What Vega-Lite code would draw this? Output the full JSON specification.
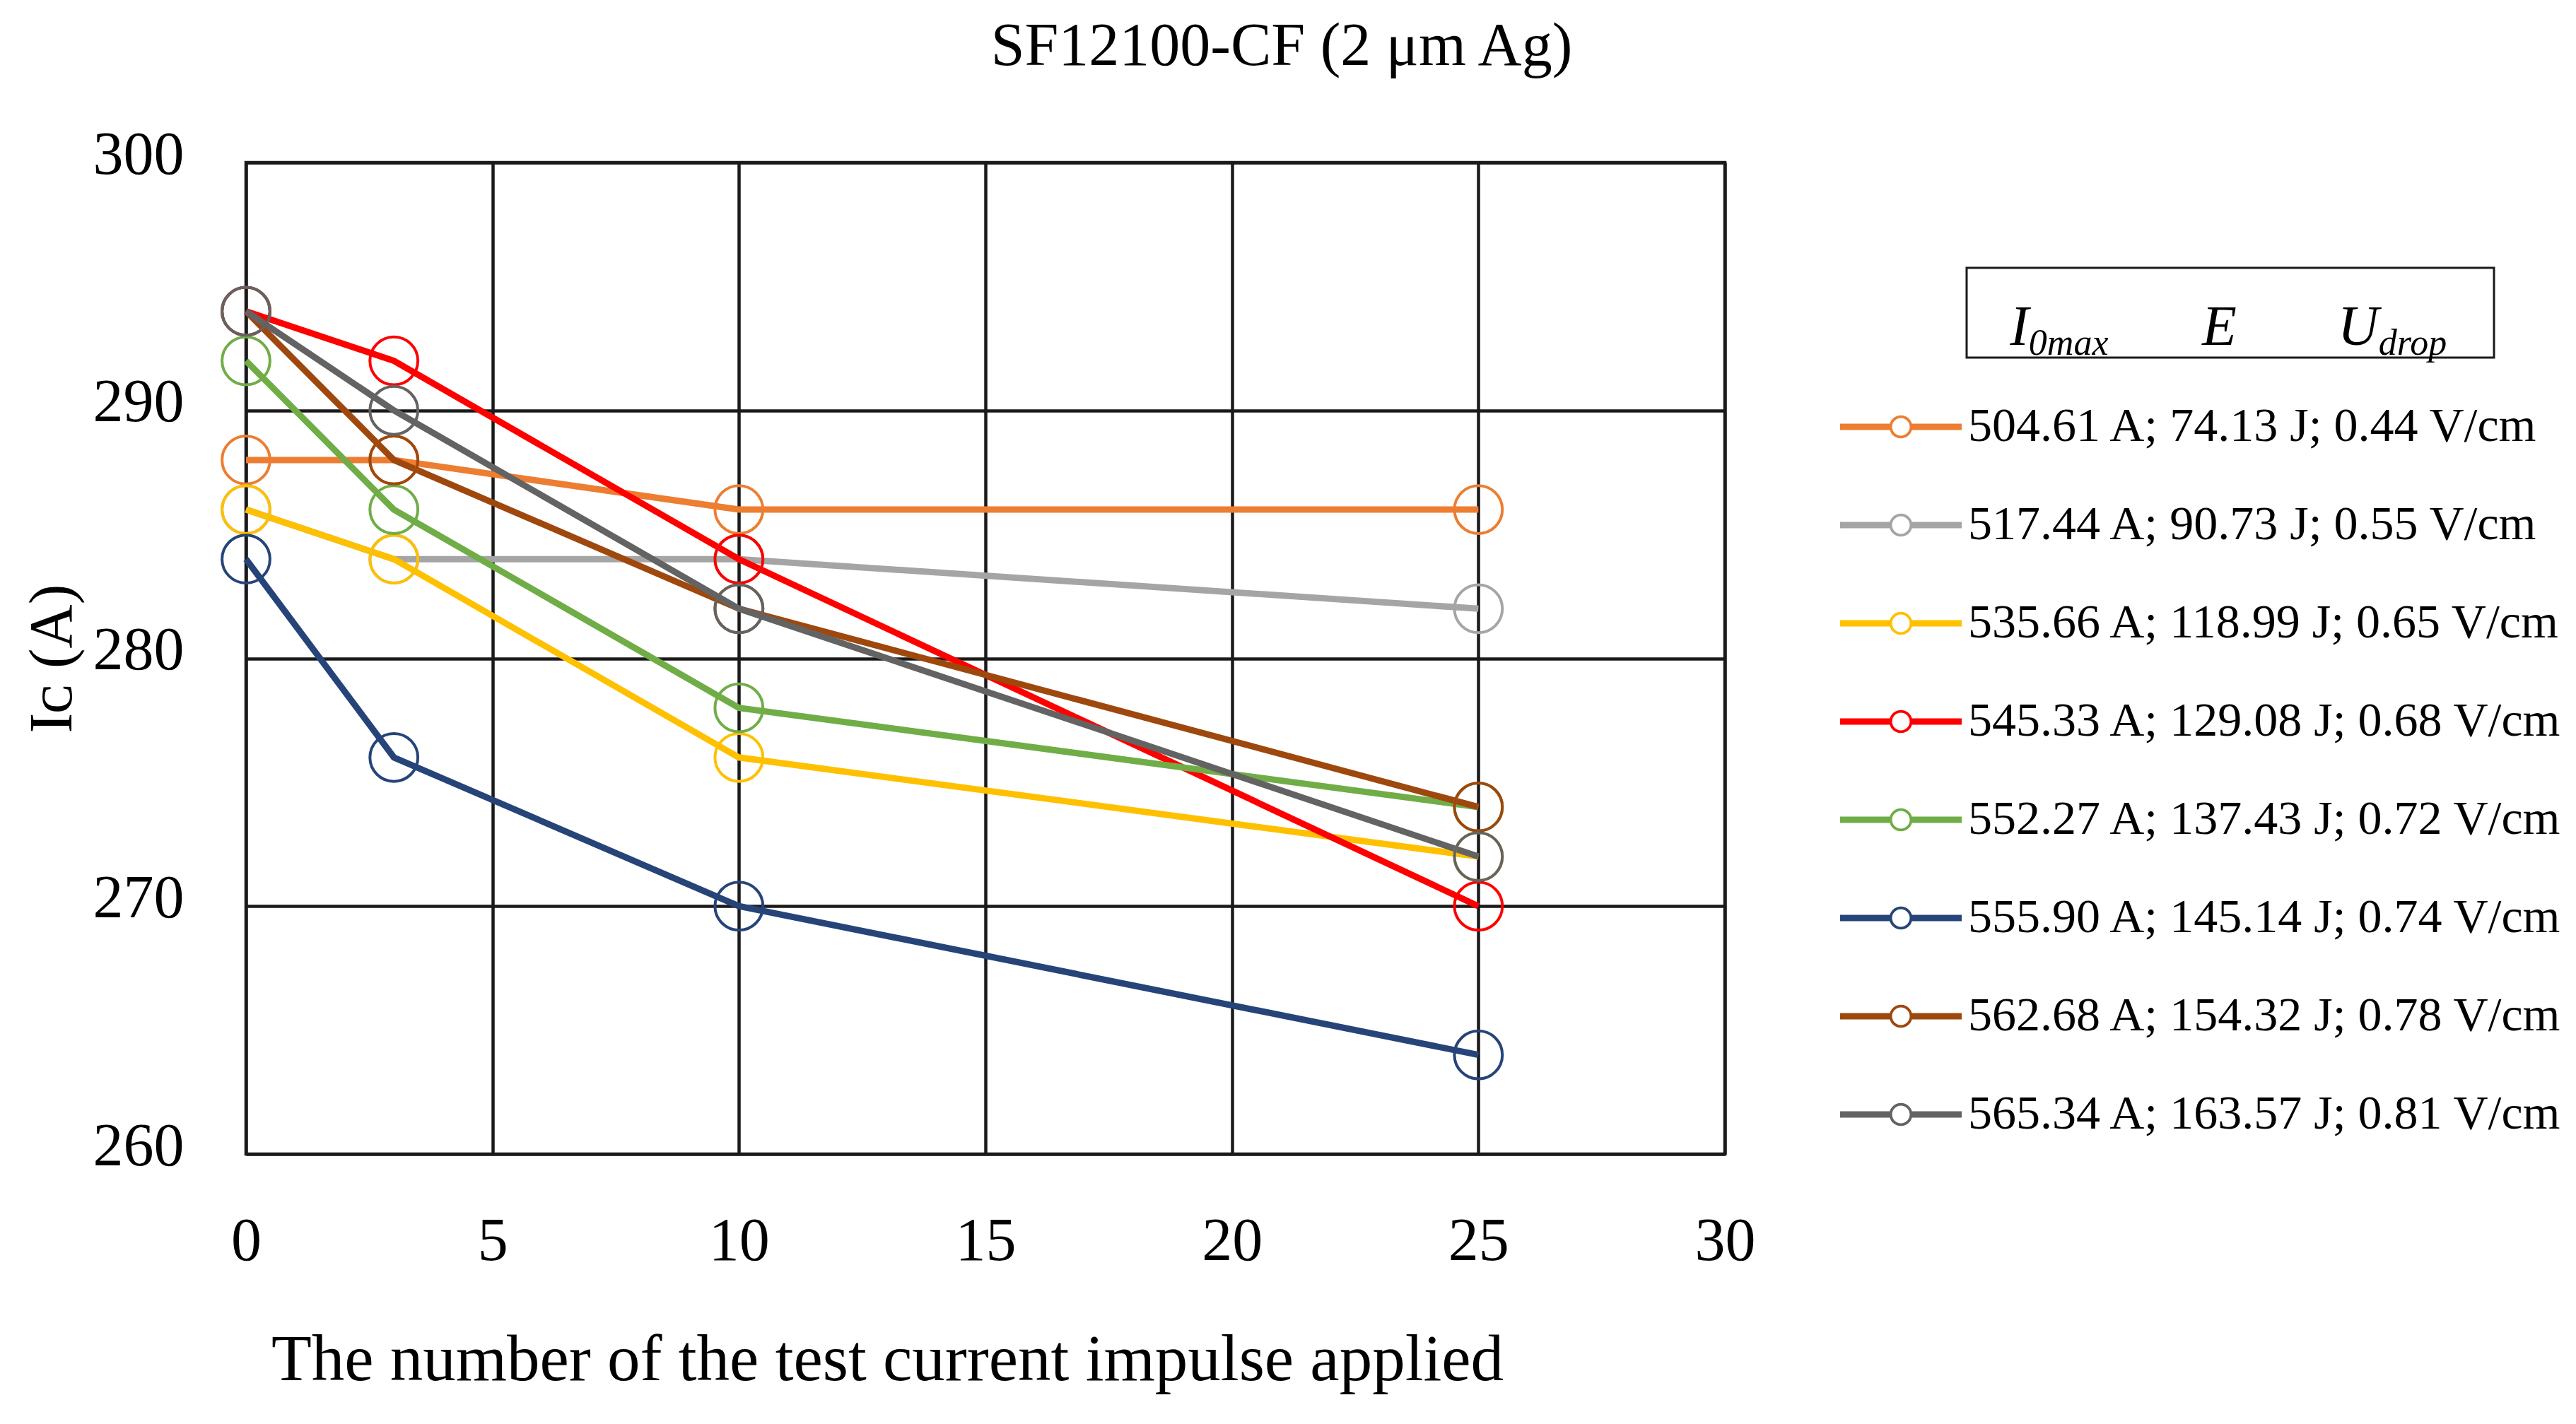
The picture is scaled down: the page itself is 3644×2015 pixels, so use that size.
{
  "$schema": "https://vega.github.io/schema/vega-lite/v6.json",
  "background": "white",
  "padding": {"left": 28, "top": 20, "right": 10, "bottom": 10},
  "spacing": 294,
  "resolve": {"legend": {"color": "shared"}},
  "config": {
    "axis": {"labelFont": "Liberation Serif", "labelFontSize": 86, "labelColor": "#000000", "titleFont": "Liberation Serif", "titleFontWeight": "normal", "titleColor": "#000000", "ticks": false, "domain": false, "grid": true, "gridColor": "#1a1a1a", "gridWidth": 4.5, "gridOpacity": 1, "labelFlush": false}
  },
  "hconcat": [
    {
      "width": 2092,
      "height": 1403,
      "title": {"text": "SF12100-CF (2 μm Ag)", "font": "Liberation Serif", "fontSize": 86, "fontWeight": "normal", "color": "#000000", "anchor": "middle", "frame": "group", "dx": 419, "offset": 66},
      "view": {"stroke": "#1a1a1a", "strokeWidth": 4.5},
      "data": {"values": [
        {"series": "504.61 A; 74.13 J; 0.44 V/cm", "n": 0, "Ic": 288},
        {"series": "504.61 A; 74.13 J; 0.44 V/cm", "n": 3, "Ic": 288},
        {"series": "504.61 A; 74.13 J; 0.44 V/cm", "n": 10, "Ic": 286},
        {"series": "504.61 A; 74.13 J; 0.44 V/cm", "n": 25, "Ic": 286},
        {"series": "517.44 A; 90.73 J; 0.55 V/cm", "n": 0, "Ic": 286},
        {"series": "517.44 A; 90.73 J; 0.55 V/cm", "n": 3, "Ic": 284},
        {"series": "517.44 A; 90.73 J; 0.55 V/cm", "n": 10, "Ic": 284},
        {"series": "517.44 A; 90.73 J; 0.55 V/cm", "n": 25, "Ic": 282},
        {"series": "535.66 A; 118.99 J; 0.65 V/cm", "n": 0, "Ic": 286},
        {"series": "535.66 A; 118.99 J; 0.65 V/cm", "n": 3, "Ic": 284},
        {"series": "535.66 A; 118.99 J; 0.65 V/cm", "n": 10, "Ic": 276},
        {"series": "535.66 A; 118.99 J; 0.65 V/cm", "n": 25, "Ic": 272},
        {"series": "545.33 A; 129.08 J; 0.68 V/cm", "n": 0, "Ic": 294},
        {"series": "545.33 A; 129.08 J; 0.68 V/cm", "n": 3, "Ic": 292},
        {"series": "545.33 A; 129.08 J; 0.68 V/cm", "n": 10, "Ic": 284},
        {"series": "545.33 A; 129.08 J; 0.68 V/cm", "n": 25, "Ic": 270},
        {"series": "552.27 A; 137.43 J; 0.72 V/cm", "n": 0, "Ic": 292},
        {"series": "552.27 A; 137.43 J; 0.72 V/cm", "n": 3, "Ic": 286},
        {"series": "552.27 A; 137.43 J; 0.72 V/cm", "n": 10, "Ic": 278},
        {"series": "552.27 A; 137.43 J; 0.72 V/cm", "n": 25, "Ic": 274},
        {"series": "555.90 A; 145.14 J; 0.74 V/cm", "n": 0, "Ic": 284},
        {"series": "555.90 A; 145.14 J; 0.74 V/cm", "n": 3, "Ic": 276},
        {"series": "555.90 A; 145.14 J; 0.74 V/cm", "n": 10, "Ic": 270},
        {"series": "555.90 A; 145.14 J; 0.74 V/cm", "n": 25, "Ic": 264},
        {"series": "562.68 A; 154.32 J; 0.78 V/cm", "n": 0, "Ic": 294},
        {"series": "562.68 A; 154.32 J; 0.78 V/cm", "n": 3, "Ic": 288},
        {"series": "562.68 A; 154.32 J; 0.78 V/cm", "n": 10, "Ic": 282},
        {"series": "562.68 A; 154.32 J; 0.78 V/cm", "n": 25, "Ic": 274},
        {"series": "565.34 A; 163.57 J; 0.81 V/cm", "n": 0, "Ic": 294},
        {"series": "565.34 A; 163.57 J; 0.81 V/cm", "n": 3, "Ic": 290},
        {"series": "565.34 A; 163.57 J; 0.81 V/cm", "n": 10, "Ic": 282},
        {"series": "565.34 A; 163.57 J; 0.81 V/cm", "n": 25, "Ic": 272}
      ]},
      "encoding": {
        "x": {"field": "n", "type": "quantitative", "scale": {"domain": [0, 30], "nice": false},
          "axis": {"values": [0, 5, 10, 15, 20, 25, 30], "title": "The number of the test current impulse applied", "titleFontSize": 93, "titleX": 907, "labelPadding": 81, "titlePadding": 80}},
        "y": {"field": "Ic", "type": "quantitative", "scale": {"domain": [260, 300], "nice": false, "zero": false},
          "axis": {"values": [260, 270, 280, 290, 300], "title": "Iᴄ (A)", "titleFontSize": 86, "labelPadding": 88, "titlePadding": 30, "labelOffset": -11}},
        "color": {"field": "series", "type": "nominal", "sort": null,
          "scale": {"domain": ["504.61 A; 74.13 J; 0.44 V/cm", "517.44 A; 90.73 J; 0.55 V/cm", "535.66 A; 118.99 J; 0.65 V/cm", "545.33 A; 129.08 J; 0.68 V/cm", "552.27 A; 137.43 J; 0.72 V/cm", "555.90 A; 145.14 J; 0.74 V/cm", "562.68 A; 154.32 J; 0.78 V/cm", "565.34 A; 163.57 J; 0.81 V/cm"],
            "range": ["#ED7D31", "#A5A5A5", "#FFC000", "#FF0000", "#70AD47", "#264478", "#9E480E", "#636363"]},
          "legend": {"orient": "none", "legendX": 2255, "legendY": 288, "title": null,
            "symbolType": "M-1,-0.052H-0.17V0.052H-1Z M0.17,-0.052H1V0.052H0.17Z M0.19,0A0.19,0.19 0 1,1 -0.19,0A0.19,0.19 0 1,1 0.19,0Z M0.145,0A0.145,0.145 0 1,0 -0.145,0A0.145,0.145 0 1,0 0.145,0Z",
            "symbolSize": 29584, "symbolStrokeWidth": 0, "labelFont": "Liberation Serif", "labelFontSize": 68, "labelColor": "#000000", "labelLimit": 2000, "labelOffset": 9, "rowPadding": 19,
            "encode": {"symbols": {"update": {"fill": {"scale": "color", "field": "value"}, "fillOpacity": {"value": 1}, "strokeWidth": {"value": 0}, "opacity": {"value": 1}}}}}
        }
      },
      "layer": [
        {"mark": {"type": "line", "strokeWidth": 9}},
        {"mark": {"type": "point", "shape": "circle", "filled": false, "size": 4600, "strokeWidth": 4, "opacity": 1}}
      ]
    },
    {
      "spacing": 146,
      "vconcat": [
        {
          "width": 746,
          "height": 1,
          "view": {"stroke": null},
          "data": {"values": []},
          "mark": "point"
        },
        {
          "width": 746,
          "height": 127,
          "view": {"stroke": "#1a1a1a", "strokeWidth": 3},
          "data": {"values": [
            {"col": "I0max", "main": "I", "sub": "0max"},
            {"col": "E", "main": "E", "sub": ""},
            {"col": "Udrop", "main": "U", "sub": "drop"}
          ]},
          "encoding": {
            "x": {"field": "col", "type": "nominal", "sort": null, "scale": {"type": "point", "domain": ["I0max", "E", "Udrop"], "padding": 0.507, "align": 0.35}, "axis": null}
          },
          "layer": [
            {"transform": [{"filter": "datum.col !== 'E'"}],
              "mark": {"type": "text", "align": "right", "baseline": "alphabetic", "font": "Liberation Serif", "fontSize": 80, "fontStyle": "italic", "color": "#000000", "dy": 45},
              "encoding": {"text": {"field": "main"}}},
            {"transform": [{"filter": "datum.col === 'E'"}],
              "mark": {"type": "text", "align": "center", "baseline": "alphabetic", "font": "Liberation Serif", "fontSize": 80, "fontStyle": "italic", "color": "#000000", "dy": 45, "dx": 22},
              "encoding": {"text": {"field": "main"}}},
            {"mark": {"type": "text", "align": "left", "baseline": "alphabetic", "font": "Liberation Serif", "fontSize": 52, "fontStyle": "italic", "color": "#000000", "dy": 59},
              "encoding": {"text": {"field": "sub"}}}
          ]
        }
      ]
    }
  ]
}
